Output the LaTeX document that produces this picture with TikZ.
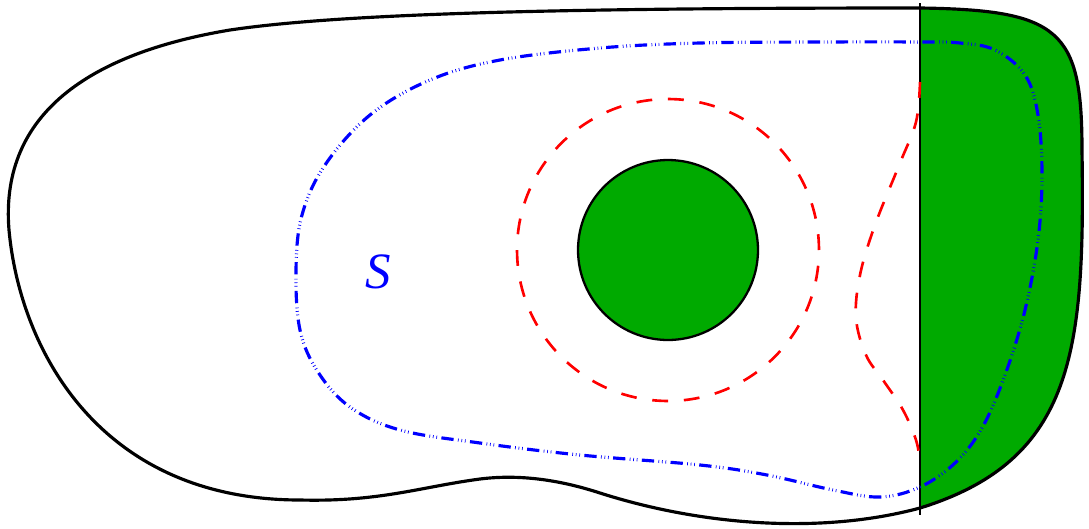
\documentclass[tikz,border=0pt]{standalone}
\usepackage{fontspec}
\usepackage{tikz}
\newfontfamily\labelfont{Liberation Serif}
\definecolor{fillgreen}{RGB}{0,170,0}
\tikzset{
  outerline/.style={line width=1.8pt, black},
  splitline/.style={line width=1.2pt, black},
  corestyle/.style={circle, draw=black, line width=1.3pt, fill=fillgreen, minimum size=3.6cm, inner sep=0pt},
  reddash/.style={red, line width=1.5pt, dash pattern=on 9pt off 9pt},
  bluedash/.style={blue, line width=1.8pt, dash pattern=on 7pt off 2.5pt on 0.4pt off 1.6pt on 0.4pt off 1.6pt on 0.4pt off 2.5pt},
  labelstyle/.style={blue, font=\labelfont\itshape\fontsize{29}{32}\selectfont}
}
\def\outerpath{(920,8) .. controls (1060,10) and (1082,30) .. (1082,150)
 .. controls (1085,350) and (1075,460) .. (920,508)
 .. controls (820,535) and (700,525) .. (600,493)
 .. controls (560,480) and (520,474) .. (480,479)
 .. controls (420,487) and (380,502) .. (300,500)
 .. controls (100,500) and (20,350) .. (9,230)
 .. controls (0,120) and (80,55) .. (230,30)
 .. controls (350,12) and (600,8) .. (920,8) -- cycle}
\begin{document}
\begin{tikzpicture}[x=0.02cm, y=-0.02cm]
\useasboundingbox (0,0) rectangle (1089,528);
\begin{scope}
  \clip (920,0) rectangle (1089,528);
  \fill[fillgreen] \outerpath;
\end{scope}
\draw[outerline] \outerpath;
\coordinate (top) at (920,3);
\coordinate (bot) at (920,515);
\draw[splitline] (top) -- (bot);
\node[corestyle] (core) at (668,250) {};
\draw[reddash] (core.center) circle [radius=3.02cm];
\draw[reddash] plot[smooth, tension=0.6] coordinates {(920,82) (916,122) (900,163) (875,225) (860,275) (856,318) (866,355) (883,380) (903,410) (916,440) (920,462)};
\draw[bluedash] plot[smooth cycle, tension=0.6] coordinates {
(920,42) (820,42) (700,43) (600,48) (500,60) (430,80) (370,115) (325,165) (302,215) (296,270) (300,330) (318,372) (350,407) (400,430) (480,443) (580,455) (700,465) (767,475) (833,490) (880,497) (920,487) (955,463) (982,428) (1005,375) (1025,310) (1038,240) (1042,175) (1038,115) (1025,75) (995,50) (960,43)};
\node[labelstyle] (S) at (378,272) {S};
\end{tikzpicture}
\end{document}
